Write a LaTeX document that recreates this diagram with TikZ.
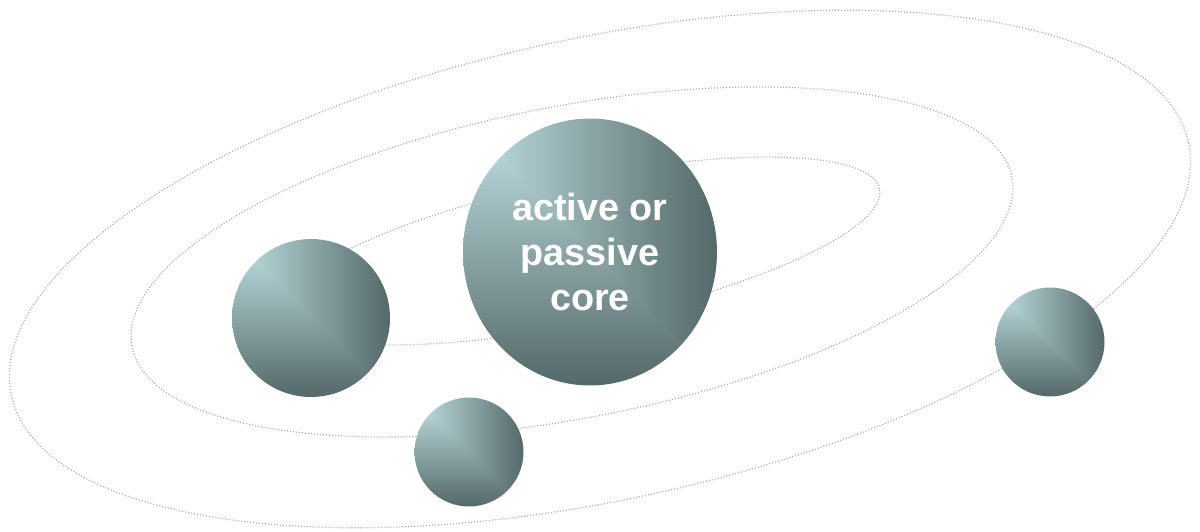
\documentclass[tikz,border=0pt]{standalone}
\usepackage{fontspec}
\setmainfont{Liberation Sans}
\usetikzlibrary{shapes.geometric}

% light in the upper left corner, dark towards the right and bottom edges
\pgfdeclarefunctionalshading{cornerfade}{\pgfpointorigin}{\pgfpoint{100bp}{100bp}}{}{
  75 exch sub exch 25 sub 2 copy lt {exch} if pop 50 div
  dup 0 lt {pop 0} if dup 1 gt {pop 1} if
  dup 0.43 mul 0.76 exch sub exch
  dup 0.48 mul 0.89 exch sub exch
  0.49 mul 0.90 exch sub
}

\begin{document}
\begin{tikzpicture}[x=0.02cm, y=0.02cm,
        orbit/.style={draw=gray!65, line width=0.7pt, dash pattern=on 0.6pt off 1.1pt},
        planet/.style={circle, shade, shading=cornerfade, inner sep=0pt},
        sun/.style={ellipse, shade, shading=cornerfade, inner sep=0pt,
                    minimum width=5.08cm, minimum height=5.34cm,
                    align=center, text=white,
                    font=\bfseries\fontsize{21.5}{25.5}\selectfont}]
      \useasboundingbox (0,0) rectangle (1200,531);
      % orbits
      \draw[orbit, rotate around={11.7:(580,280)}] (580,280) ellipse (306 and 72);
      \draw[orbit, rotate around={10.9:(572,269)}] (572,269) ellipse (448 and 156);
      \draw[orbit, rotate around={12.1:(600,262)}] (600,262) ellipse (602 and 231);
      % bodies
      \node[sun] (core) at (590,279) {active or\\passive\\core};
      \node[planet, minimum size=3.16cm] (inner)  at (311,213) {};
      \node[planet, minimum size=2.18cm] (middle) at (469,79)  {};
      \node[planet, minimum size=2.18cm] (outer)  at (1050,189) {};
    \end{tikzpicture}
\end{document}
